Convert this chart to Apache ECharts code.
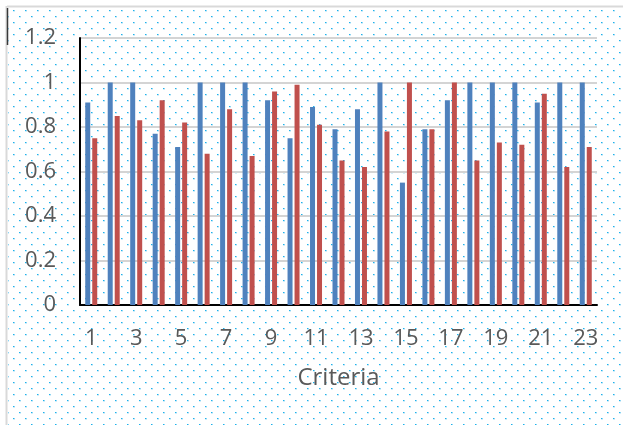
<!DOCTYPE html>
<html>
<head>
<meta charset="utf-8">
<script src="https://cdn.jsdelivr.net/npm/echarts@6/dist/echarts.min.js"></script>
<style>
html,body{margin:0;padding:0;background:#fff;}
#chart{width:623px;height:425px;}
</style>
</head>
<body>
<div id="chart"></div>
<script>
const categories = ['1','2','3','4','5','6','7','8','9','10','11','12','13','14','15','16','17','18','19','20','21','22','23'];
const seriesBlue = [0.91,1.00,1.00,0.77,0.71,1.00,1.00,1.00,0.92,0.75,0.89,0.79,0.88,1.00,0.55,0.79,0.92,1.00,1.00,1.00,0.91,1.00,1.00];
const seriesRed  = [0.75,0.85,0.83,0.92,0.82,0.68,0.88,0.67,0.96,0.99,0.81,0.65,0.62,0.78,1.00,0.79,1.00,0.65,0.73,0.72,0.95,0.62,0.71];
const axisTitle = 'Criteria';

// dotted background tile
const tile = document.createElement('canvas');
tile.width = 12; tile.height = 12;
const tctx = tile.getContext('2d');
tctx.fillStyle = '#ffffff';
tctx.fillRect(0,0,12,12);
function dot(x,y){
  tctx.fillStyle = '#1cb2ec'; tctx.fillRect(x,y,1,1);
  tctx.fillStyle = '#8ad4f3'; tctx.fillRect(x+1,y,1,1);
  tctx.fillStyle = '#d2eefa'; tctx.fillRect(x,y+1,2,1);
}
dot(1,10); dot(7,4);

const chart = echarts.init(document.getElementById('chart'), null, {renderer:'canvas'});
const font = '"Open Sans", sans-serif';
chart.setOption({
  animation: false,
  backgroundColor: '#ffffff',
  graphic: [
    {type:'rect', z:-10, silent:true, shape:{x:8,y:7,width:615,height:418}, style:{fill:{image:tile, repeat:'repeat'}}},
    {type:'line', z:-5, silent:true, shape:{x1:7,y1:6.5,x2:623,y2:6.5}, style:{stroke:'#d9d9d9', lineWidth:2}},
    {type:'line', z:-5, silent:true, shape:{x1:6.5,y1:6,x2:6.5,y2:425}, style:{stroke:'#d9d9d9', lineWidth:2}},
    {type:'line', z:-4, silent:true, shape:{x1:7.5,y1:8,x2:7.5,y2:45}, style:{stroke:'#3a3a3a', lineWidth:1.5}}
  ],
  grid: {left:80, right:26, top:38, bottom:120, containLabel:false},
  xAxis: {
    type:'category',
    data: categories,
    axisLine:{show:true, lineStyle:{color:'#000', width:2}},
    axisTick:{show:false},
    axisLabel:{interval:1, color:'#595959', fontSize:22, fontFamily:font, margin:23},
    name: axisTitle,
    nameLocation:'middle',
    nameGap:61,
    nameTextStyle:{color:'#595959', fontSize:24, fontFamily:font}
  },
  yAxis: {
    type:'value',
    min:0, max:1.2, interval:0.2,
    axisLine:{show:true, lineStyle:{color:'#000', width:2}},
    axisTick:{show:false},
    axisLabel:{color:'#595959', fontSize:22, fontFamily:font, margin:24,
      formatter: v => String(Math.round(v*10)/10)},
    splitLine:{show:true, lineStyle:{color:'#d4d4d4', width:2}}
  },
  series: [
    {type:'bar', data: seriesBlue, barWidth:5, barGap:'40%', barCategoryGap:'40%', itemStyle:{color:'#4f81bd'}},
    {type:'bar', data: seriesRed, barWidth:5, itemStyle:{color:'#c0504d'}}
  ]
});
</script>
</body>
</html>
